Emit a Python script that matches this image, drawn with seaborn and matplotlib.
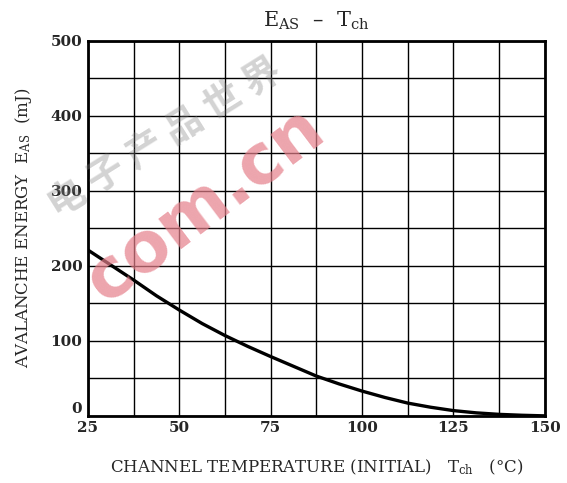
import numpy as np
import matplotlib
matplotlib.use("Agg")
import matplotlib.pyplot as plt
import seaborn as sns
import pandas as pd

# channel temperature (deg C) vs avalanche energy (mJ)
tch = [25, 31.25, 37.5, 43.75, 50, 56.25, 62.5, 68.75, 75, 81.25, 87.5,
       93.75, 100, 106.25, 112.5, 118.75, 125, 131.25, 137.5, 143.75, 150]
eas = [221, 201, 181, 160, 141, 123, 107, 92.5, 79, 66, 53,
       42.5, 33, 24.5, 17, 11.5, 7, 4, 2, 0.8, 0]

x_ticks = [25, 50, 75, 100, 125, 150]
y_ticks = [0, 100, 200, 300, 400, 500]

df = pd.DataFrame({"Tch": tch, "EAS": eas})

sns.set_style("white")
plt.rcParams['font.family'] = ['DejaVu Serif']
plt.rcParams['mathtext.fontset'] = 'dejavuserif'

fig = plt.figure(figsize=(5.67, 4.83), dpi=100)
ax = fig.add_axes([0.155, 0.139, 0.806, 0.777])

sns.lineplot(data=df, x="Tch", y="EAS", ax=ax, color="black", linewidth=2.4)

ax.set_xlim(25, 150)
ax.set_ylim(0, 500)
ax.set_xticks(x_ticks)
ax.set_yticks(y_ticks)
ax.set_xticks(np.arange(25, 151, 12.5), minor=True)
ax.set_yticks(np.arange(0, 501, 50), minor=True)
ax.grid(which="both", color="black", linewidth=1.0)
ax.set_axisbelow(True)
ax.tick_params(which="both", length=0, labelsize=11, pad=4)
for lbl in ax.get_xticklabels() + ax.get_yticklabels():
    lbl.set_fontweight("bold")
ax.get_yticklabels()[0].set_va("bottom")
for s in ax.spines.values():
    s.set_color("black")
    s.set_linewidth(2)

ax.set_xlabel(r"CHANNEL TEMPERATURE (INITIAL)   $\mathregular{T_{ch}}$   (°C)",
              fontsize=12, labelpad=16)
ax.set_ylabel(r"AVALANCHE ENERGY  $\mathregular{E_{AS}}$  (mJ)", fontsize=12, labelpad=12)
ax.set_title(r"$\mathregular{E_{AS}}$  –  $\mathregular{T_{ch}}$", fontsize=15, pad=10)

# watermark
fig.text(0.29, 0.716, "电 子 产 品 世 界", family=['Noto Sans CJK SC', 'DejaVu Sans'],
         fontsize=27, color="gray", alpha=0.35, rotation=32,
         ha="center", va="center", fontweight="bold")
fig.text(0.362, 0.576, "com.cn", family=['DejaVu Sans'], fontsize=50,
         color="#e57f8a", alpha=0.7, rotation=37, ha="center", va="center",
         fontweight="bold")

fig.savefig("out.png", dpi=100)
